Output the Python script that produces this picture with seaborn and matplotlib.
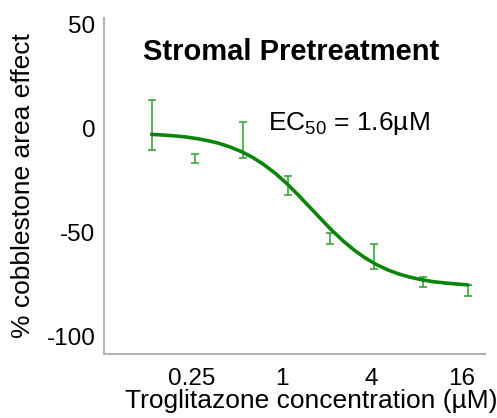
import matplotlib
matplotlib.use("Agg")
import matplotlib.pyplot as plt
import seaborn as sns
import pandas as pd

# --------------------------------------------------------------------
# DATA
# --------------------------------------------------------------------

# measured points: concentration (uM), mean effect (%), error half-width
conc = [0.135, 0.265, 0.555, 1.1, 2.1, 4.15, 8.85, 17.6]
effect_mean = [1.7, -14.4, -5.6, -27.4, -52.8, -61.5, -73.8, -77.8]
effect_err = [11.9, 2.1, 8.8, 4.6, 2.8, 6.1, 2.4, 2.7]

# fitted dose-response curve
curve_conc = [0.135, 0.1605, 0.1909, 0.227, 0.27, 0.3211, 0.3818, 0.4541,
              0.54, 0.6422, 0.7637, 0.9082, 1.08, 1.2843, 1.5274, 1.8164,
              2.16, 2.5687, 3.0547, 3.6327, 4.32, 5.137, 6.109, 7.265,
              8.64, 10.275, 12.219, 14.531, 17.28, 17.6]
curve_effect = [-2.9, -3.2, -3.6, -4.1, -4.9, -5.9, -7.2, -9.0,
                -11.2, -14.0, -17.5, -21.6, -26.4, -31.8, -37.5, -43.2,
                -48.8, -53.9, -58.4, -62.2, -65.4, -67.9, -69.9, -71.4,
                -72.6, -73.5, -74.1, -74.6, -75.0, -75.1]

x_ticks = [0.25, 1, 4, 16]
x_tick_labels = ["0.25", "1", "4", "16"]
y_ticks = [-100, -50, 0, 50]

TITLE = "Stromal Pretreatment"
EC50_TEXT = r"EC$_{50}$ = 1.6µM"

LINE_COLOR = "#0a850a"
BAR_COLOR = "#2e9c2e"
SPINE_COLOR = "#b4b4b4"

# --------------------------------------------------------------------
# STYLE
# --------------------------------------------------------------------

sns.set_style("white")
plt.rcParams["font.family"] = ["Liberation Sans", "DejaVu Sans"]
plt.rcParams["mathtext.fontset"] = "custom"
plt.rcParams["mathtext.rm"] = "Liberation Sans"
plt.rcParams["mathtext.it"] = "Liberation Sans:italic"
plt.rcParams["mathtext.bf"] = "Liberation Sans:bold"
plt.rcParams["axes.unicode_minus"] = False
plt.rcParams["text.color"] = "black"
plt.rcParams["axes.labelcolor"] = "black"
plt.rcParams["xtick.color"] = "black"
plt.rcParams["ytick.color"] = "black"

# --------------------------------------------------------------------
# PLOT
# --------------------------------------------------------------------

fig = plt.figure(figsize=(4.97, 4.18), dpi=100)
ax = fig.add_axes([0.209, 0.153, 0.767, 0.804])

curve_df = pd.DataFrame({"conc": curve_conc, "effect": curve_effect})
sns.lineplot(data=curve_df, x="conc", y="effect", color=LINE_COLOR,
             linewidth=2.6, ax=ax, zorder=3)

ax.errorbar(conc, effect_mean, yerr=effect_err, fmt="none",
            ecolor=BAR_COLOR, elinewidth=1.1, capsize=3, capthick=1.1,
            zorder=2)

ax.set_xscale("log", base=2)
ax.set_xlim(0.0648, 22.9)
ax.set_ylim(-108.2, 52.9)

ax.set_xticks(x_ticks)
ax.set_xticklabels(x_tick_labels)
ax.minorticks_off()
ax.set_yticks(y_ticks)

ax.tick_params(direction="in", length=4, width=1, color=SPINE_COLOR,
               labelcolor="black", labelsize=17.5, pad=6)
ax.tick_params(axis="x", pad=10)

for side in ["top", "right"]:
    ax.spines[side].set_visible(False)
for side in ["left", "bottom"]:
    ax.spines[side].set_color(SPINE_COLOR)
    ax.spines[side].set_linewidth(1.5)

ax.set_xlabel("Troglitazone concentration (µM)", fontsize=19)
ax.xaxis.set_label_coords(0.543, -0.105)
ax.set_ylabel("% cobblestone area effect", fontsize=19)
ax.yaxis.set_label_coords(-0.18, 0.5)

ax.text(0.492, 0.9, TITLE, transform=ax.transAxes, ha="center",
        va="center", fontsize=21, fontweight="bold")
ax.text(0.43, 0.667, EC50_TEXT, transform=ax.transAxes, ha="left",
        va="baseline", fontsize=19)

fig.savefig("out.png", dpi=100)
plt.close(fig)
